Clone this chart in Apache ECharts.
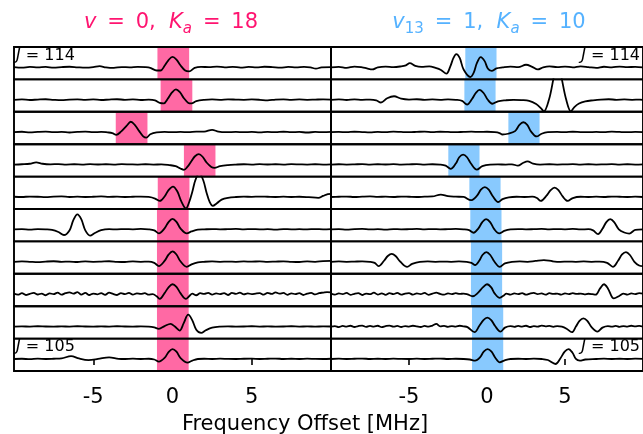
<!DOCTYPE html>
<html><head><meta charset="utf-8">
<script src="https://cdn.jsdelivr.net/npm/echarts@6/dist/echarts.min.js"></script>
<style>html,body{margin:0;padding:0;background:#fff}#c{width:643px;height:434px}</style>
</head><body><div id="c"></div>
<script>
// ---------- DATA ----------
const xTicks = [-5, 0, 5];
const xLabel = 'Frequency Offset [MHz]';
const leftTitle = '{i|v} = 0,  {i|K}{si|a} = 18';
const rightTitle = '{i|v}{sd|13} = 1,  {i|K}{si|a} = 10';
const topRowJ = '114';
const bottomRowJ = '105';

// highlight windows (MHz), one per row, top row first
const leftHighlights = [[-0.95,1.05],[-0.75,1.25],[-3.58,-1.58],[0.72,2.71],[-0.93,1.07],[-0.98,1.02],[-0.98,1.02],[-0.98,1.02],[-0.98,1.02],[-0.98,1.02]];
const rightHighlights = [[-1.39,0.61],[-1.45,0.55],[1.37,3.37],[-2.48,-0.48],[-1.13,0.87],[-1.07,0.93],[-1.03,0.97],[-1.03,0.97],[-0.96,1.04],[-0.96,1.04]];

// left panel (v=0, Ka=18), rows J=114 ... J=105, [offset MHz, intensity]
const left114 = [[-10,0.02],[-9.5,-0.03],[-9,0.05],[-8.5,0],[-8,0.04],[-7.5,-0.02],[-7,0.03],[-6.5,0.06],[-6,0.01],[-5.5,-0.03],[-5,0.02],[-4.6,0.12],[-4.2,0.0],[-3.7,-0.05],[-3.2,0.03],[-2.7,0.0],[-2.2,0.05],[-1.7,0.02],[-1.4,-0.05],[-1.0,-0.3],[-0.75,-0.3],[-0.5,0.15],[-0.25,0.7],[0,1.0],[0.25,0.75],[0.5,0.2],[0.8,-0.3],[1.05,-0.38],[1.4,-0.05],[1.8,0.05],[2.3,0.02],[2.8,0.08],[3.3,0.0],[3.8,0.05],[4.3,-0.02],[4.8,0.04],[5.3,0.0],[5.8,0.06],[6.3,0.03],[6.8,-0.02],[7.3,0.04],[7.8,0.0],[8.3,0.05],[8.7,0.0],[9.05,-0.12],[9.4,0.0],[10,0.03]];
const left113 = [[-10,0.0],[-9.5,0.03],[-9,-0.02],[-8.5,0.02],[-8,0.05],[-7.5,0.0],[-7,-0.03],[-6.5,0.02],[-6,0.04],[-5.5,0.0],[-5,0.03],[-4.5,-0.02],[-4,0.02],[-3.5,0.05],[-3,0.0],[-2.5,0.03],[-2,-0.02],[-1.5,0.02],[-1.1,-0.05],[-0.8,-0.3],[-0.55,-0.35],[-0.3,0.1],[-0.03,0.7],[0.22,1.0],[0.47,0.72],[0.72,0.15],[1.0,-0.3],[1.2,-0.35],[1.5,-0.12],[2,0.0],[2.5,0.03],[3,0.0],[3.5,0.04],[4,0.02],[4.5,0.0],[5,0.03],[5.5,0.0],[6,-0.06],[6.5,0.02],[7,0.04],[7.5,0.0],[8,0.03],[8.5,0.0],[9,0.02],[9.5,0.04],[10,0.01]];
const left112 = [[-10,0.0],[-9.5,0.04],[-9,-0.02],[-8.5,0.03],[-8,0.06],[-7.5,0.0],[-7,0.03],[-6.5,-0.03],[-6,0.02],[-5.5,0.05],[-5,0.0],[-4.5,0.03],[-4.1,-0.02],[-3.8,-0.08],[-3.55,-0.25],[-3.25,0.05],[-2.9,0.6],[-2.63,1.0],[-2.38,0.7],[-2.1,0.1],[-1.85,-0.4],[-1.65,-0.53],[-1.4,-0.2],[-1.0,-0.02],[-0.5,0.02],[0,0.0],[0.5,0.03],[1,0.0],[1.5,0.05],[2,0.05],[2.5,0.23],[2.9,0.05],[3.4,0.0],[4,0.03],[4.5,0.0],[5,0.02],[5.5,-0.02],[6,0.03],[6.5,0.0],[7,0.04],[7.5,0.0],[8,0.02],[8.5,-0.03],[9,0.02],[9.5,0.0],[10,0.03]];
const left111 = [[-10,0.0],[-9.5,0.03],[-9,0.08],[-8.6,0.22],[-8.2,0.08],[-7.7,0.02],[-7.2,0.05],[-6.7,0.0],[-6.2,0.03],[-5.7,0.0],[-5.2,0.04],[-4.7,0.01],[-4.2,0.03],[-3.7,0.0],[-3.2,0.04],[-2.7,0.02],[-2.2,0.0],[-1.7,0.03],[-1.2,0.0],[-0.7,0.02],[-0.2,-0.05],[0.2,-0.15],[0.5,-0.38],[0.72,-0.5],[0.95,-0.2],[1.2,0.35],[1.42,0.8],[1.66,1.0],[1.9,0.75],[2.15,0.2],[2.45,-0.22],[2.65,-0.31],[3,-0.15],[3.5,-0.05],[4,0.0],[4.5,0.03],[5,0.0],[5.5,0.04],[6,0.01],[6.5,0.03],[7,0.0],[7.5,0.04],[8,0.02],[8.5,0.0],[9,0.03],[9.5,0.0],[10,0.02]];
const left110 = [[-10,0.02],[-9.5,0.0],[-9,0.04],[-8.5,0.02],[-8,-0.02],[-7.5,0.03],[-7,0.05],[-6.5,0.0],[-6,0.03],[-5.5,0.0],[-5,0.02],[-4.5,0.05],[-4,0.01],[-3.5,0.03],[-3,0.0],[-2.5,0.02],[-2,0.04],[-1.5,0.0],[-1.1,-0.15],[-0.8,-0.38],[-0.5,0.05],[-0.25,0.65],[0.03,1.0],[0.3,0.55],[0.55,-0.4],[0.85,-1.1],[1.05,-0.5],[1.25,0.5],[1.44,1.6],[1.69,2.3],[1.94,1.6],[2.15,0.4],[2.35,-0.5],[2.54,-0.86],[2.8,-0.6],[3.1,-0.25],[3.5,-0.08],[4.0,0.0],[4.5,0.03],[5.0,0.01],[5.5,0.04],[6.0,0.02],[6.5,0.0],[7.0,0.03],[7.5,0.0],[8.0,0.02],[8.6,-0.02],[9.2,-0.08],[9.5,0.1],[9.8,0.28],[10,0.3]];
const left109 = [[-10,0.0],[-9.5,0.03],[-9,-0.02],[-8.5,0.02],[-8,0.0],[-7.6,-0.05],[-7.2,-0.25],[-6.85,-0.54],[-6.5,-0.1],[-6.25,0.9],[-6.0,1.43],[-5.75,0.95],[-5.5,-0.1],[-5.2,-0.6],[-4.9,-0.35],[-4.5,-0.08],[-4,0.02],[-3.5,0.0],[-3,0.03],[-2.5,0.01],[-2,0.04],[-1.5,0.0],[-1.15,-0.1],[-0.86,-0.38],[-0.5,0.1],[-0.25,0.7],[0,1.0],[0.25,0.72],[0.5,0.1],[0.9,-0.38],[1.2,-0.2],[1.6,-0.03],[2,0.0],[2.5,0.03],[3,0.0],[3.5,0.02],[4,0.04],[4.5,0.0],[5,0.03],[5.5,0.0],[6,0.02],[6.5,-0.02],[7,0.03],[7.5,0.0],[8,0.02],[8.5,0.0],[9,0.03],[9.5,0.0],[10,0.02]];
const left108 = [[-10,0.0],[-9.5,0.03],[-9,0.0],[-8.5,-0.03],[-8,0.02],[-7.5,0.05],[-7,0.0],[-6.5,0.02],[-6,-0.02],[-5.5,0.03],[-5,0.0],[-4.5,0.02],[-4,0.05],[-3.5,0.0],[-3,-0.02],[-2.5,0.03],[-2,0.0],[-1.5,0.02],[-1.15,-0.1],[-0.86,-0.41],[-0.5,0.08],[-0.25,0.68],[0,1.0],[0.25,0.7],[0.5,0.05],[0.9,-0.48],[1.2,-0.25],[1.6,-0.05],[2,0.0],[2.5,0.03],[3,0.0],[3.5,0.02],[4,0.0],[4.5,0.03],[5,0.01],[5.5,0.04],[6,0.0],[6.5,0.02],[7,0.04],[7.5,0.0],[8,-0.02],[8.5,0.03],[9,0.0],[9.5,0.06],[10,0.08]];
const left107 = [[-10,0.05],[-9.75,-0.05],[-9.5,0.1],[-9.25,-0.08],[-9,0.04],[-8.75,0.12],[-8.5,-0.03],[-8.25,0.06],[-8,-0.1],[-7.75,0.08],[-7.5,0.0],[-7.25,0.15],[-7,-0.05],[-6.75,0.1],[-6.5,0.18],[-6.25,0.05],[-6,0.2],[-5.75,-0.05],[-5.5,0.12],[-5.25,-0.08],[-5,0.06],[-4.75,-0.02],[-4.5,0.1],[-4.25,-0.06],[-4,0.14],[-3.75,0.02],[-3.5,-0.08],[-3.25,0.1],[-3,0.0],[-2.75,0.12],[-2.5,-0.04],[-2.25,0.08],[-2,0.02],[-1.75,0.1],[-1.5,-0.05],[-1.25,0.0],[-1.0,-0.2],[-0.8,-0.45],[-0.5,0.1],[-0.25,0.65],[0,0.95],[0.25,0.7],[0.5,0.1],[0.85,-0.45],[1.05,-0.2],[1.25,0.05],[1.5,-0.1],[1.75,0.1],[2,0.02],[2.25,0.12],[2.5,-0.05],[2.75,0.08],[3,0.0],[3.25,0.1],[3.5,-0.08],[3.75,0.12],[4,0.03],[4.25,0.15],[4.5,-0.02],[4.75,0.08],[5,0.0],[5.25,0.06],[5.5,0.1],[5.75,-0.05],[6,0.12],[6.25,0.02],[6.5,0.18],[6.75,0.05],[7,0.12],[7.25,-0.06],[7.5,0.08],[7.75,0.0],[8,0.1],[8.25,-0.08],[8.5,0.05],[8.75,0.12],[9,-0.02],[9.25,0.1],[9.5,0.15],[9.75,0.2],[10,0.18]];
const left106 = [[-10,0.0],[-9.5,0.02],[-9,0.0],[-8.5,0.03],[-8,0.01],[-7.5,0.0],[-7,0.02],[-6.5,0.0],[-6,0.03],[-5.5,0.01],[-5,0.0],[-4.5,0.02],[-4,0.0],[-3.5,0.03],[-3,0.01],[-2.5,0.0],[-2,0.02],[-1.5,0.0],[-1.15,-0.08],[-0.86,-0.22],[-0.5,0.05],[-0.12,0.26],[0.15,0.0],[0.45,-0.38],[0.7,0.3],[0.99,1.14],[1.25,0.6],[1.5,-0.3],[1.81,-0.6],[2.1,-0.35],[2.5,-0.1],[3,0.0],[3.5,0.02],[4,0.0],[4.5,0.01],[5,0.03],[5.5,0.0],[6,0.02],[6.5,0.0],[7,0.01],[7.5,0.03],[8,0.0],[8.5,0.02],[9,0.0],[9.5,0.02],[10,0.01]];
const left105 = [[-10,0.0],[-9.5,0.02],[-9,-0.02],[-8.5,0.03],[-8,0.0],[-7.5,0.02],[-7,0.05],[-6.4,0.28],[-5.9,0.05],[-5.3,-0.1],[-4.7,0.0],[-4.0,0.16],[-3.4,0.02],[-3,0.0],[-2.5,0.03],[-2,0.0],[-1.5,0.02],[-1.15,-0.05],[-0.86,-0.25],[-0.5,0.1],[-0.25,0.65],[0,0.95],[0.25,0.7],[0.5,0.1],[0.95,-0.35],[1.25,-0.15],[1.6,0.0],[2,0.02],[2.5,0.0],[3,0.03],[3.5,0.01],[4,0.0],[4.5,0.02],[5,0.03],[5.5,0.0],[6,0.02],[6.5,0.04],[7,0.0],[7.5,0.02],[8,0.0],[8.5,0.03],[9,0.01],[9.5,0.0],[10,0.02]];

// right panel (v13=1, Ka=10), rows J=114 ... J=105
const right114 = [[-10,0.0],[-9.5,0.05],[-9,-0.05],[-8.5,0.08],[-8,0.0],[-7.7,-0.1],[-7.35,-0.2],[-7,0.0],[-6.5,0.08],[-6,0.02],[-5.5,0.1],[-5.2,0.2],[-4.95,0.4],[-4.6,0.15],[-4.2,0.05],[-3.7,0.1],[-3.3,-0.05],[-2.95,-0.25],[-2.6,-0.6],[-2.35,0.1],[-2.15,0.9],[-1.97,1.27],[-1.75,0.9],[-1.5,-0.2],[-1.07,-0.92],[-0.85,-0.5],[-0.65,0.4],[-0.4,0.99],[-0.15,0.6],[0.05,-0.1],[0.3,-0.34],[0.6,-0.1],[1.0,0.0],[1.5,0.08],[2,0.02],[2.5,0.25],[2.9,0.05],[3.25,-0.2],[3.6,0.0],[4,0.1],[4.5,0.02],[5,0.08],[5.5,0.0],[6,0.1],[6.5,0.03],[7,-0.05],[7.5,0.06],[8,0.0],[8.5,0.08],[9,0.02],[9.5,0.05],[10,0.0]];
const right113 = [[-10,0.0],[-9.5,0.03],[-9,-0.02],[-8.5,0.04],[-8,0.0],[-7.5,0.02],[-7.1,-0.05],[-6.8,-0.26],[-6.4,0.15],[-5.96,0.34],[-5.5,0.1],[-5,0.02],[-4.5,0.05],[-4,0.0],[-3.5,0.03],[-3,0.0],[-2.5,0.04],[-2,0.0],[-1.6,-0.1],[-1.28,-0.45],[-0.95,0.1],[-0.72,0.65],[-0.48,0.95],[-0.22,0.65],[0.05,0.0],[0.34,-0.38],[0.7,-0.15],[1.2,-0.05],[1.7,0.0],[2.2,-0.03],[2.7,-0.1],[3.15,-0.4],[3.45,-0.8],[3.65,-1.1],[3.97,0.0],[4.25,1.95],[4.52,4.0],[4.8,1.95],[5.08,0.0],[5.38,-1.1],[5.6,-0.7],[5.9,-0.35],[6.3,-0.15],[6.8,-0.05],[7.3,0.02],[7.8,0.05],[8.3,0.0],[8.8,0.03],[9.3,0.0],[9.8,0.02],[10,0.0]];
const right112 = [[-10,0.0],[-9.5,0.03],[-9,0.0],[-8.5,0.04],[-8,0.01],[-7.5,-0.02],[-7,0.03],[-6.5,0.0],[-6,0.05],[-5.5,0.02],[-5,0.0],[-4.5,0.03],[-4,0.06],[-3.5,0.0],[-3,0.04],[-2.5,0.02],[-2,0.0],[-1.5,0.03],[-1,0.05],[-0.5,0.02],[0,0.04],[0.5,0.0],[0.8,-0.08],[0.99,-0.22],[1.35,-0.15],[1.8,0.1],[2.08,0.7],[2.33,0.95],[2.58,0.7],[2.83,0.05],[3.18,-0.41],[3.5,-0.15],[3.9,0.0],[4.5,0.03],[5,0.0],[5.5,0.04],[6,0.01],[6.5,0.0],[7,0.03],[7.5,0.0],[8,0.05],[8.5,0.02],[9,0.0],[9.5,0.03],[10,0.01]];
const right111 = [[-10,0.0],[-9.5,0.03],[-9,0.0],[-8.5,0.02],[-8,0.05],[-7.5,0.0],[-7,0.03],[-6.5,0.01],[-6,0.04],[-5.5,0.0],[-5,0.02],[-4.5,0.05],[-4,0.0],[-3.5,0.03],[-3,0.0],[-2.65,-0.1],[-2.33,-0.41],[-2.0,0.1],[-1.78,0.7],[-1.53,0.95],[-1.28,0.7],[-1.03,0.1],[-0.65,-0.48],[-0.3,-0.15],[0.2,0.0],[0.7,0.02],[1.2,0.0],[1.6,0.02],[1.98,-0.1],[2.3,0.15],[2.6,0.31],[2.95,0.1],[3.4,0.0],[4,0.03],[4.5,0.0],[5,0.02],[5.5,0.04],[6,0.0],[6.5,0.03],[7,0.0],[7.5,0.02],[8,0.04],[8.5,0.0],[9,0.03],[9.5,0.0],[10,0.02]];
const right110 = [[-10,0.0],[-9.5,0.02],[-9,0.04],[-8.5,0.0],[-8,0.03],[-7.5,0.05],[-7,0.01],[-6.5,0.03],[-6,0.0],[-5.5,0.04],[-5,0.02],[-4.5,0.0],[-4,0.03],[-3.5,0.05],[-2.96,0.23],[-2.5,0.08],[-2,0.03],[-1.5,0.0],[-1.03,-0.31],[-0.65,0.1],[-0.39,0.7],[-0.14,0.95],[0.11,0.7],[0.36,0.1],[0.72,-0.48],[1.0,-0.2],[1.4,-0.03],[1.9,0.02],[2.4,0.0],[2.9,0.03],[3.2,-0.1],[3.45,-0.38],[3.8,0.1],[4.08,0.65],[4.33,0.9],[4.58,0.65],[4.85,0.05],[5.17,-0.38],[5.5,-0.1],[6,0.02],[6.5,0.0],[7,0.03],[7.5,0.0],[8,0.04],[8.5,0.02],[9,0.0],[9.5,0.03],[10,0.0]];
const right109 = [[-10,0.0],[-9.5,0.03],[-9,-0.02],[-8.5,0.02],[-8,0.04],[-7.5,0.0],[-7,0.02],[-6.5,-0.02],[-6,0.03],[-5.5,0.0],[-5,0.02],[-4.5,0.05],[-4,0.0],[-3.5,0.03],[-3,0.0],[-2.5,0.02],[-2,0.04],[-1.5,0.0],[-1.15,-0.08],[-0.86,-0.32],[-0.55,0.1],[-0.3,0.7],[-0.06,0.98],[0.2,0.7],[0.45,0.05],[0.78,-0.38],[1.1,-0.15],[1.5,0.0],[2,0.03],[2.5,0.0],[3,0.02],[3.5,0.04],[4,0.0],[4.5,0.03],[5,0.01],[5.5,0.04],[6,0.0],[6.5,0.02],[6.8,-0.1],[7.12,-0.45],[7.4,0.05],[7.65,0.7],[7.9,0.98],[8.15,0.7],[8.45,0.0],[8.8,-0.3],[9.12,-0.4],[9.5,-0.05],[10,0.0]];
const right108 = [[-10,0.0],[-9.5,0.03],[-9,0.0],[-8.5,0.02],[-8,0.04],[-7.5,0.0],[-7.2,-0.1],[-6.95,-0.41],[-6.6,0.1],[-6.36,0.55],[-6.11,0.76],[-5.86,0.55],[-5.55,0.0],[-5.12,-0.48],[-4.8,-0.2],[-4.3,0.0],[-3.8,0.03],[-3.3,0.0],[-2.8,0.02],[-2.3,0.0],[-1.8,0.03],[-1.3,0.0],[-1.0,-0.1],[-0.76,-0.31],[-0.5,0.1],[-0.29,0.65],[-0.04,0.92],[0.21,0.65],[0.46,0.05],[0.82,-0.48],[1.15,-0.15],[1.6,0.0],[2.1,0.03],[2.6,0.0],[3.1,0.08],[3.65,0.16],[4.2,0.05],[4.7,0.0],[5.2,0.02],[5.7,0.0],[6.2,0.03],[6.7,0.0],[7.2,0.02],[7.7,-0.1],[8.07,-0.48],[8.4,0.1],[8.66,0.7],[8.91,0.92],[9.16,0.65],[9.45,0.0],[9.75,-0.35],[10,-0.41]];
const right107 = [[-10,0.05],[-9.75,-0.05],[-9.5,0.08],[-9.25,0.0],[-9,0.12],[-8.75,-0.06],[-8.5,0.04],[-8.25,0.1],[-8,-0.08],[-7.75,0.06],[-7.5,0.0],[-7.25,0.14],[-7,-0.04],[-6.75,0.08],[-6.5,-0.06],[-6.25,0.1],[-6,0.0],[-5.75,0.12],[-5.5,-0.05],[-5.25,0.06],[-5,0.1],[-4.75,-0.04],[-4.5,0.08],[-4.25,0.0],[-4,0.12],[-3.75,-0.06],[-3.5,0.05],[-3.25,0.15],[-3,0.02],[-2.75,-0.05],[-2.5,0.08],[-2.25,0.0],[-2,0.1],[-1.75,0.02],[-1.5,0.06],[-1.25,-0.02],[-0.92,-0.2],[-0.6,0.1],[-0.27,0.65],[0,0.95],[0.27,0.65],[0.5,0.05],[0.82,-0.35],[1.05,-0.15],[1.25,0.05],[1.5,-0.05],[1.75,0.08],[2,0.0],[2.25,0.1],[2.5,-0.04],[2.75,0.06],[3,0.12],[3.25,0.0],[3.5,0.08],[3.75,-0.05],[4,0.1],[4.25,0.02],[4.5,0.06],[4.75,-0.04],[5,0.08],[5.25,0.0],[5.5,0.1],[5.75,0.02],[6,0.06],[6.25,-0.02],[6.5,0.04],[6.75,0.0],[6.96,-0.05],[7.25,0.55],[7.5,0.95],[7.75,0.55],[8.13,-0.41],[8.5,-0.15],[8.75,0.05],[9,-0.04],[9.25,0.08],[9.5,0.0],[9.75,0.1],[10,0.06]];
const right106 = [[-10,0.0],[-9.75,0.05],[-9.5,-0.05],[-9.25,0.06],[-9,0.0],[-8.75,0.08],[-8.5,-0.04],[-8.25,0.05],[-8,0.1],[-7.75,-0.03],[-7.5,0.06],[-7.25,0.0],[-7,0.08],[-6.75,-0.05],[-6.5,0.04],[-6.25,0.1],[-6,0.0],[-5.75,0.06],[-5.5,-0.04],[-5.25,0.05],[-5,0.0],[-4.75,0.08],[-4.5,0.02],[-4.25,-0.04],[-4,0.06],[-3.75,0.0],[-3.5,0.1],[-3.25,0.25],[-3,0.02],[-2.75,0.06],[-2.5,-0.03],[-2.25,0.05],[-2,0.0],[-1.75,0.08],[-1.5,0.02],[-1.25,-0.05],[-0.8,-0.54],[-0.5,0.05],[-0.23,0.62],[0.02,0.86],[0.27,0.62],[0.52,0.05],[0.86,-0.48],[1.15,-0.1],[1.5,0.05],[1.75,-0.03],[2,0.06],[2.25,0.0],[2.5,0.08],[2.75,-0.04],[3,0.05],[3.25,0.0],[3.5,0.1],[3.75,0.02],[4,0.06],[4.25,-0.02],[4.5,0.05],[4.8,0.0],[5.1,-0.2],[5.44,-0.54],[5.7,0.0],[5.93,0.55],[6.18,0.79],[6.43,0.55],[6.7,-0.05],[7.08,-0.48],[7.4,-0.1],[7.75,0.05],[8,0.0],[8.25,0.06],[8.5,-0.03],[8.75,0.05],[9,0.0],[9.25,0.08],[9.5,0.02],[9.75,0.06],[10,0.0]];
const right105 = [[-10,0.0],[-9.5,0.03],[-9,0.0],[-8.5,0.02],[-8,0.04],[-7.5,0.0],[-7,0.02],[-6.5,0.0],[-6,0.03],[-5.5,0.01],[-5,0.0],[-4.5,0.03],[-4,0.0],[-3.5,0.02],[-3,0.04],[-2.5,0.0],[-2,0.02],[-1.5,0.0],[-1.1,-0.05],[-0.76,-0.16],[-0.45,0.15],[-0.21,0.7],[0.04,0.95],[0.29,0.7],[0.54,0.1],[0.82,-0.32],[1.1,-0.15],[1.5,0.0],[2,0.02],[2.5,0.0],[3,0.03],[3.5,0.0],[3.9,-0.1],[4.39,-0.48],[4.7,0.05],[4.98,0.7],[5.23,0.95],[5.48,0.6],[5.7,0.0],[5.95,-0.16],[6.3,-0.05],[7,0.0],[7.5,0.03],[8,0.0],[8.5,0.02],[9,0.0],[9.5,0.03],[10,0.01]];

const leftRows = [left114,left113,left112,left111,left110,left109,left108,left107,left106,left105];
const rightRows = [right114,right113,right112,right111,right110,right109,right108,right107,right106,right105];

// ---------- CHART ----------
const FONT = 'DejaVu Sans';
const X_MIN = -10, X_MAX = 10, Y_MIN = -1.15, Y_MAX = 1.95;
const TOP = 47, ROW_H = 32.4;
const PINK = '#ff69a4', BLUE = '#88c9fe';
const panels = [
  {left: 14, width: 317, rows: leftRows, hl: leftHighlights, color: PINK},
  {left: 331, width: 317.6, rows: rightRows, hl: rightHighlights, color: BLUE}
];
const grids = [], xAxes = [], yAxes = [], series = [];
panels.forEach((p) => {
  p.rows.forEach((data, ri) => {
    const idx = grids.length;
    const isBottom = ri === p.rows.length - 1;
    grids.push({left: p.left, width: p.width, top: TOP + ri * ROW_H, height: ROW_H,
      show: true, borderColor: '#000', borderWidth: 1.9, backgroundColor: 'transparent', z: 10});
    xAxes.push({gridIndex: idx, type: 'value', min: X_MIN, max: X_MAX, interval: 5, show: isBottom,
      axisLine: {show: false}, splitLine: {show: false},
      axisTick: {show: true, customValues: xTicks, length: 6, lineStyle: {color: '#000', width: 1.6}},
      axisLabel: {customValues: xTicks, fontSize: 21, fontFamily: FONT, color: '#000', margin: 16}});
    yAxes.push({gridIndex: idx, type: 'value', min: Y_MIN, max: Y_MAX, show: false});
    series.push({type: 'line', xAxisIndex: idx, yAxisIndex: idx, data: data,
      showSymbol: false, symbol: 'none', smooth: 0.35, clip: true, silent: true,
      lineStyle: {color: '#000', width: 1.8},
      markArea: {silent: true, itemStyle: {color: p.color, opacity: 1},
        data: [[{xAxis: p.hl[ri][0]}, {xAxis: p.hl[ri][1]}]]}});
  });
});

const titleRich = (col) => ({
  i: {fontStyle: 'italic', fontSize: 21, fontFamily: FONT, fill: col, lineHeight: 28},
  si: {fontStyle: 'italic', fontSize: 15, fontFamily: FONT, fill: col, lineHeight: 15, padding: [13, 0, 0, 0]},
  sd: {fontSize: 15, fontFamily: FONT, fill: col, lineHeight: 15, padding: [13, 0, 0, 0]}
});
const jRich = {i: {fontStyle: 'italic', fontSize: 16, fontFamily: FONT, fill: '#000'}};
const jText = (txt, x, y, align) => ({type: 'text', x: x, y: y, z: 100,
  style: {text: '{i|J} = ' + txt, fontSize: 16, fontFamily: FONT, fill: '#000', align: align, verticalAlign: 'middle', rich: jRich}});
const wideEq = (s) => s.replace(/ = /g, ' \u2009=\u2009 ');

const graphic = [
  {type: 'text', x: 171, y: 23, style: {text: wideEq(leftTitle), align: 'center', verticalAlign: 'middle', fontSize: 21, fontFamily: FONT, fill: '#ff1470', lineHeight: 28, rich: titleRich('#ff1470')}},
  {type: 'text', x: 489, y: 23, style: {text: wideEq(rightTitle), align: 'center', verticalAlign: 'middle', fontSize: 21, fontFamily: FONT, fill: '#55b2ff', lineHeight: 28, rich: titleRich('#55b2ff')}},
  jText(topRowJ, 16, 56, 'left'),
  jText(topRowJ, 640, 56, 'right'),
  jText(bottomRowJ, 16, 347, 'left'),
  jText(bottomRowJ, 640, 347, 'right'),
  {type: 'text', x: 305, y: 425, style: {text: xLabel, align: 'center', verticalAlign: 'middle', fontSize: 21, fontFamily: FONT, fill: '#000'}}
];

const chart = echarts.init(document.getElementById('c'), null, {renderer: 'canvas'});
chart.setOption({animation: false, backgroundColor: '#fff', grid: grids, xAxis: xAxes, yAxis: yAxes, series: series, graphic: graphic});
</script></body></html>
